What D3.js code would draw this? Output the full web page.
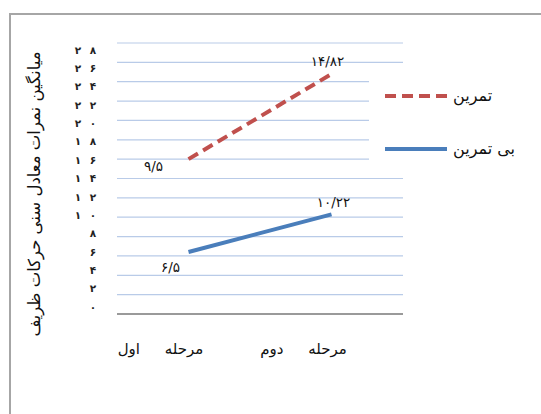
<!DOCTYPE html>
<html><head><meta charset="utf-8">
<script src="https://cdn.jsdelivr.net/npm/d3@7"></script>
<style>body{margin:0;background:#fff}svg{display:block}text{font-family:"DejaVu Sans",sans-serif}</style>
</head><body><svg id="c" width="541" height="414"></svg>
<script>
const categories = ["مرحله اول", "مرحله دوم"];
const seriesNames = ["تمرین", "بی تمرین"];
const trainValues = [16.0, 24.8];
const noTrainValues = [6.4, 10.3];
const trainLabels = ["۹/۵", "۱۴/۸۲"];
const noTrainLabels = ["۶/۵", "۱۰/۲۲"];
const yTicks = [0,2,4,6,8,10,12,14,16,18,20,22,24,26,28];
const yTickLabels = ["۰","۲","۴","۶","۸","۱۰","۱۲","۱۴","۱۶","۱۸","۲۰","۲۲","۲۴","۲۶","۲۸"];
const yTitle = "میانگین نمرات معادل سنی حرکات ظریف";

const svg = d3.select("#c");
const red = "#C0504D", blue = "#4A7EBB";
// frame
svg.append("path").attr("d","M10,414V14H541").attr("fill","none").attr("stroke","#a6a6a6").attr("stroke-width",2);

const x = d3.scalePoint().domain(categories).range([117,403]).padding(0.5);
const y = d3.scaleLinear().domain([0,28]).range([314,43]);
const yLab = d3.scaleLinear().domain([0,28]).range([307,50]);

// gridlines
svg.append("g").selectAll("line").data(yTicks.filter(d=>d>0)).join("line")
  .attr("x1",117).attr("x2",403).attr("y1",d=>y(d)).attr("y2",d=>y(d))
  .attr("stroke","#b9cbe8").attr("stroke-width",1.2);
svg.append("line").attr("x1",117).attr("x2",403).attr("y1",y(0)).attr("y2",y(0))
  .attr("stroke","#9a9a9a").attr("stroke-width",2);

// y tick labels (digits spread apart)
const tl = svg.append("g").selectAll("text").data(yTicks).join("text")
  .attr("y",(d)=>yLab(d)).attr("dy","0.35em")
  .attr("text-anchor","middle").attr("font-size",10.5).attr("font-weight","bold")
  .attr("fill","#222");
tl.each(function(d,i){
  const chars = Array.from(yTickLabels[i]);
  const n = chars.length;
  d3.select(this).selectAll("tspan").data(chars).join("tspan")
    .attr("x",(c,j)=>93 - (n-1-j)*15).attr("dy",j=>null).text(c=>c);
});

// y title
svg.append("text").attr("transform","translate(40,194) rotate(-90)")
  .attr("text-anchor","middle").attr("font-size",16.5).attr("fill","#111")
  .text(yTitle);

// category labels
svg.append("g").selectAll("text").data(categories).join("text")
  .attr("x",d=>x(d)-28).attr("y",354).attr("text-anchor","middle")
  .attr("font-size",15).attr("word-spacing","20px").attr("fill","#111")
  .attr("direction","rtl")
  .text(d=>d);

// legend background
svg.append("rect").attr("x",369).attr("y",80).attr("width",172).attr("height",97).attr("fill","#fff");

const line = d3.line().x((d,i)=>x(categories[i])).y(d=>y(d));
svg.append("path").datum(trainValues).attr("d",line).attr("fill","none")
  .attr("stroke",red).attr("stroke-width",4).attr("stroke-dasharray","11,6");
svg.append("path").datum(noTrainValues).attr("d",line).attr("fill","none")
  .attr("stroke",blue).attr("stroke-width",4);

// data labels
const lab = svg.append("g").attr("font-size",13.5).attr("fill","#111").attr("text-anchor","middle");
lab.append("text").attr("x",x(categories[0])-35).attr("y",y(trainValues[0])+12).text(trainLabels[0]);
lab.append("text").attr("x",x(categories[1])-4).attr("y",y(trainValues[1])-8).text(trainLabels[1]);
lab.append("text").attr("x",x(categories[0])-18).attr("y",y(noTrainValues[0])+20).text(noTrainLabels[0]);
lab.append("text").attr("x",x(categories[1])+2).attr("y",y(noTrainValues[1])-7).text(noTrainLabels[1]);

// legend
const leg = svg.append("g");
const items = [{n:seriesNames[0],c:red,dash:"11,6",y:96},{n:seriesNames[1],c:blue,dash:null,y:149}];
items.forEach(it=>{
  leg.append("line").attr("x1",385).attr("x2",447).attr("y1",it.y).attr("y2",it.y)
    .attr("stroke",it.c).attr("stroke-width",4).attr("stroke-dasharray",it.dash);
  leg.append("text").attr("x",453).attr("y",it.y+5).attr("font-size",16).attr("fill","#111")
    .attr("text-anchor","start").text(it.n);
});
</script></body></html>
